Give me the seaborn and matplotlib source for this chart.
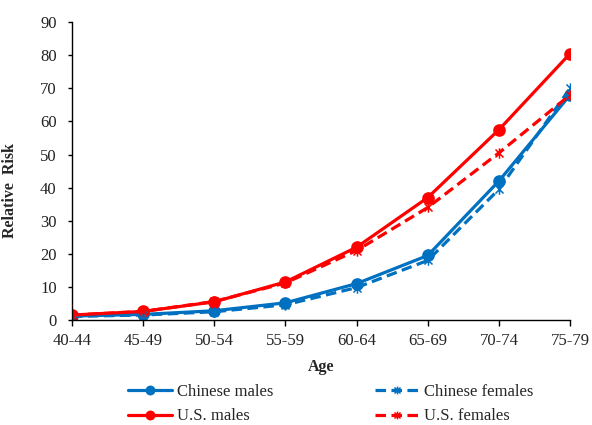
import numpy as np
import pandas as pd
import seaborn as sns
import matplotlib
matplotlib.use("Agg")
import matplotlib.pyplot as plt
from matplotlib.path import Path

# Age groups and relative risk per group
ages = ["40-44", "45-49", "50-54", "55-59", "60-64", "65-69", "70-74", "75-79"]
chinese_males = [1.2, 1.7, 2.8, 5.2, 11.0, 19.5, 42.0, 68.0]
chinese_females = [1.1, 1.5, 2.5, 4.6, 9.8, 18.0, 39.5, 70.0]
us_males = [1.5, 2.6, 5.5, 11.5, 22.0, 37.0, 57.5, 80.5]
us_females = [1.5, 2.6, 5.6, 11.2, 21.0, 34.0, 50.5, 68.0]

yticks = [0, 10, 20, 30, 40, 50, 60, 70, 80, 90]

sns.set_theme(style="white")
plt.rcParams["font.family"] = ["Liberation Serif", "DejaVu Serif"]

BLUE = "#0070C0"
RED = "#FF0000"

# asterisk marker: an X with a vertical stroke
star = Path([(-1, -1), (1, 1), (-1, 1), (1, -1), (0, -1.3), (0, 1.3)],
            [Path.MOVETO, Path.LINETO, Path.MOVETO, Path.LINETO, Path.MOVETO, Path.LINETO])

fig = plt.figure(figsize=(5.92, 4.25), dpi=100)
ax = fig.add_axes([0.1216, 0.247, 0.8414, 0.701])

x = np.arange(len(ages))
series = [
    ("Chinese males", chinese_males, BLUE, "o", ""),
    ("U.S. males", us_males, RED, "o", ""),
    ("Chinese females", chinese_females, BLUE, star, (3.3, 1.7)),
    ("U.S. females", us_females, RED, star, (3.3, 1.7)),
]

handles = []
for label, vals, color, mk, dash in series:
    sns.lineplot(x=x, y=vals, ax=ax, color=color, linewidth=2.3,
                 marker=mk, markersize=8 if mk == "o" else 7.5,
                 markeredgewidth=1.1, markeredgecolor=color,
                 markerfacecolor=color, legend=False)
    line = ax.lines[-1]
    if dash:
        line.set_dashes(dash)
    handles.append(line)

ax.set_xlim(0, len(ages) - 1)
ax.set_ylim(0, 90)
ax.set_xticks(x)
ax.set_xticklabels(ages)
ax.set_yticks(yticks)
ax.tick_params(axis="both", labelsize=12, colors="black", direction="out",
               width=1, bottom=True, left=True)
ax.tick_params(axis="x", length=4, pad=5)
ax.tick_params(axis="y", length=3, pad=8)
for lab in ax.get_xticklabels() + ax.get_yticklabels():
    lab.set_color("#222222")

for side in ["top", "right"]:
    ax.spines[side].set_visible(False)
for side in ["left", "bottom"]:
    ax.spines[side].set_color("black")
    ax.spines[side].set_linewidth(1)

ax.set_xlabel("Age", fontsize=11.5, fontweight="bold")
ax.xaxis.set_label_coords(0.5, -0.13)
ax.set_ylabel("Relative  Risk", fontsize=11.5, fontweight="bold")
ax.yaxis.set_label_coords(-0.108, 0.436)

fig.legend(handles=handles, labels=[s[0] for s in series], ncol=2,
           loc="upper left", bbox_to_anchor=(128 / 592, 1 - 384 / 425),
           frameon=False, fontsize=12, handlelength=2.65, columnspacing=6.1,
           labelspacing=0.5, handletextpad=0.3, borderpad=0, borderaxespad=0,
           markerscale=0.75)

fig.savefig("out.png", dpi=100)
